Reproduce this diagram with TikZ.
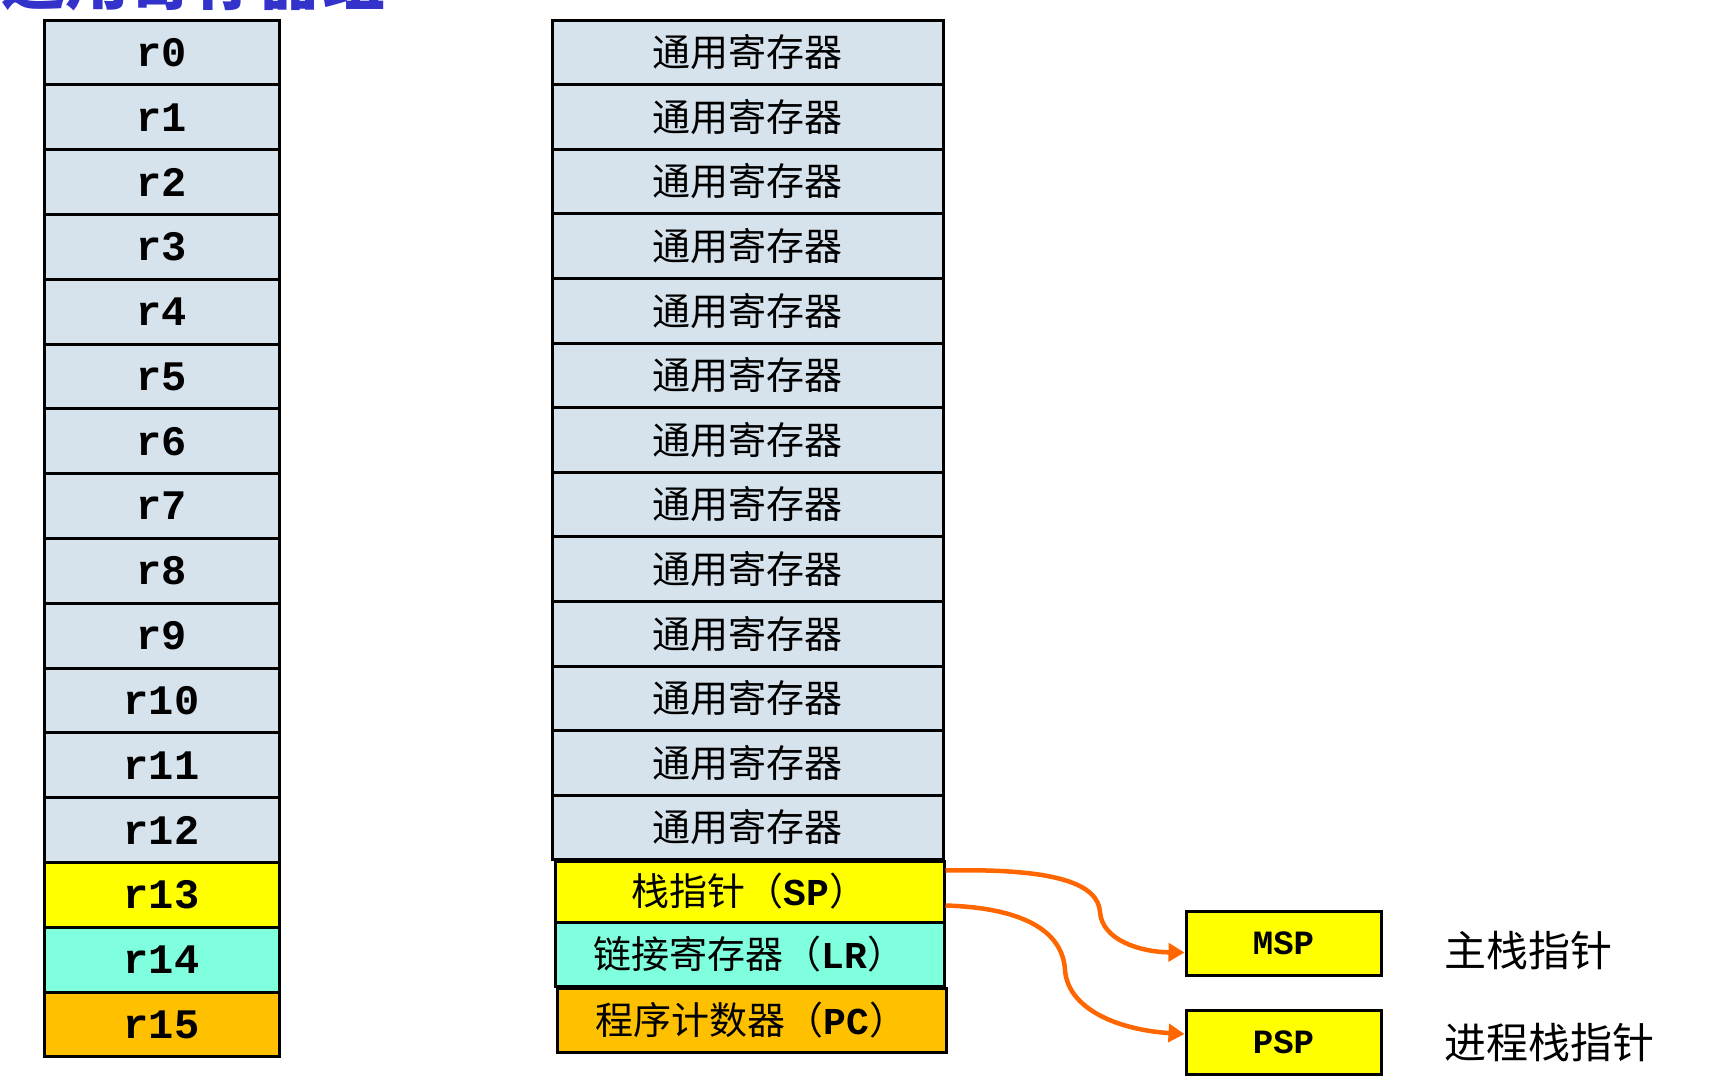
\documentclass[tikz,border=0pt]{standalone}
\usepackage{fontspec}
\newfontfamily\cjk{Noto Sans CJK SC}
\newfontfamily\mono{Liberation Mono}
\usetikzlibrary{arrows.meta,calc}
\definecolor{regblue}{RGB}{214,227,236}
\definecolor{regyellow}{RGB}{255,255,0}
\definecolor{regaqua}{RGB}{127,255,222}
\definecolor{regorange}{RGB}{255,192,0}
\definecolor{arroworange}{RGB}{255,102,0}
\definecolor{titleblue}{RGB}{51,51,204}
\begin{document}
\begin{tikzpicture}[x=1pt,y=-1pt,
  regbox/.style={draw=black,line width=3pt,fill=regblue,inner sep=0pt,minimum width=235pt,minimum height=64.8pt,font=\mono\bfseries\fontsize{42}{48}\selectfont},
  genbox/.style={draw=black,line width=3pt,fill=regblue,inner sep=0pt,minimum width=391pt,minimum height=64.6pt,font=\cjk\fontsize{38}{44}\selectfont},
  spbox/.style={draw=black,line width=3pt,inner sep=0pt,minimum width=389pt,font=\cjk\fontsize{38}{44}\selectfont},
  ptrbox/.style={draw=black,line width=3pt,fill=regyellow,inner sep=0pt,minimum width=195pt,minimum height=64pt,font=\mono\bfseries\fontsize{34}{40}\selectfont},
  ptrlabel/.style={anchor=west,inner sep=0pt,font=\cjk\fontsize{42}{48}\selectfont},
  ptrarrow/.style={draw=arroworange,line width=4.5pt,-{Triangle[length=16pt,width=18pt]}}]
\useasboundingbox (0,0) rectangle (1722,1080);
% partially visible title
\node[anchor=base east,inner sep=0pt,text=titleblue,font=\cjk\bfseries\fontsize{64}{70}\selectfont] (title) at (386,4) {通用寄存器组};
% left column
\foreach \i in {0,...,12}{
  \node[regbox] (l\i) at (161.5,{20+64.8*(\i+0.5)}) {r\i};
}
\node[regbox,fill=regyellow] (l13) at (161.5,{20+64.8*13.5}) {r13};
\node[regbox,fill=regaqua] (l14) at (161.5,{20+64.8*14.5}) {r14};
\node[regbox,fill=regorange] (l15) at (161.5,{20+64.8*15.5}) {r15};
% right column
\foreach \i in {1,...,13}{
  \node[genbox] (g\i) at (747.5,{20+64.6*(\i-0.5)}) {通用寄存器};
}
\node[spbox,fill=regyellow,minimum height=61pt] (sp) at (749.5,891.5) {栈指针（{\mono\bfseries SP}）};
\node[spbox,fill=regaqua,minimum height=64pt] (lr) at (749.5,954) {链接寄存器（{\mono\bfseries LR}）};
\node[spbox,fill=regorange,minimum height=64pt] (pc) at (751.5,1020) {程序计数器（{\mono\bfseries PC}）};
% stack pointers
\node[ptrbox] (msp) at (1283.5,943.5) {MSP};
\node[ptrbox] (psp) at (1283.5,1042) {PSP};
\node[ptrlabel] (mspl) at (1444,951) {主栈指针};
\node[ptrlabel] (pspl) at (1444,1043) {进程栈指针};
% arrows
\draw[ptrarrow] ($(sp.east)+(0,-21)$) .. controls (1060,868) and (1098,885) .. (1100,912)
  .. controls (1102,940) and (1140,952) .. ($(msp.west)+(0,9)$);
\draw[ptrarrow] ($(sp.east)+(0,14)$) .. controls (1030,908) and (1063,935) .. (1065,970)
  .. controls (1068,1010) and (1120,1030) .. ($(psp.west)+(0,-8)$);
\end{tikzpicture}
\end{document}
